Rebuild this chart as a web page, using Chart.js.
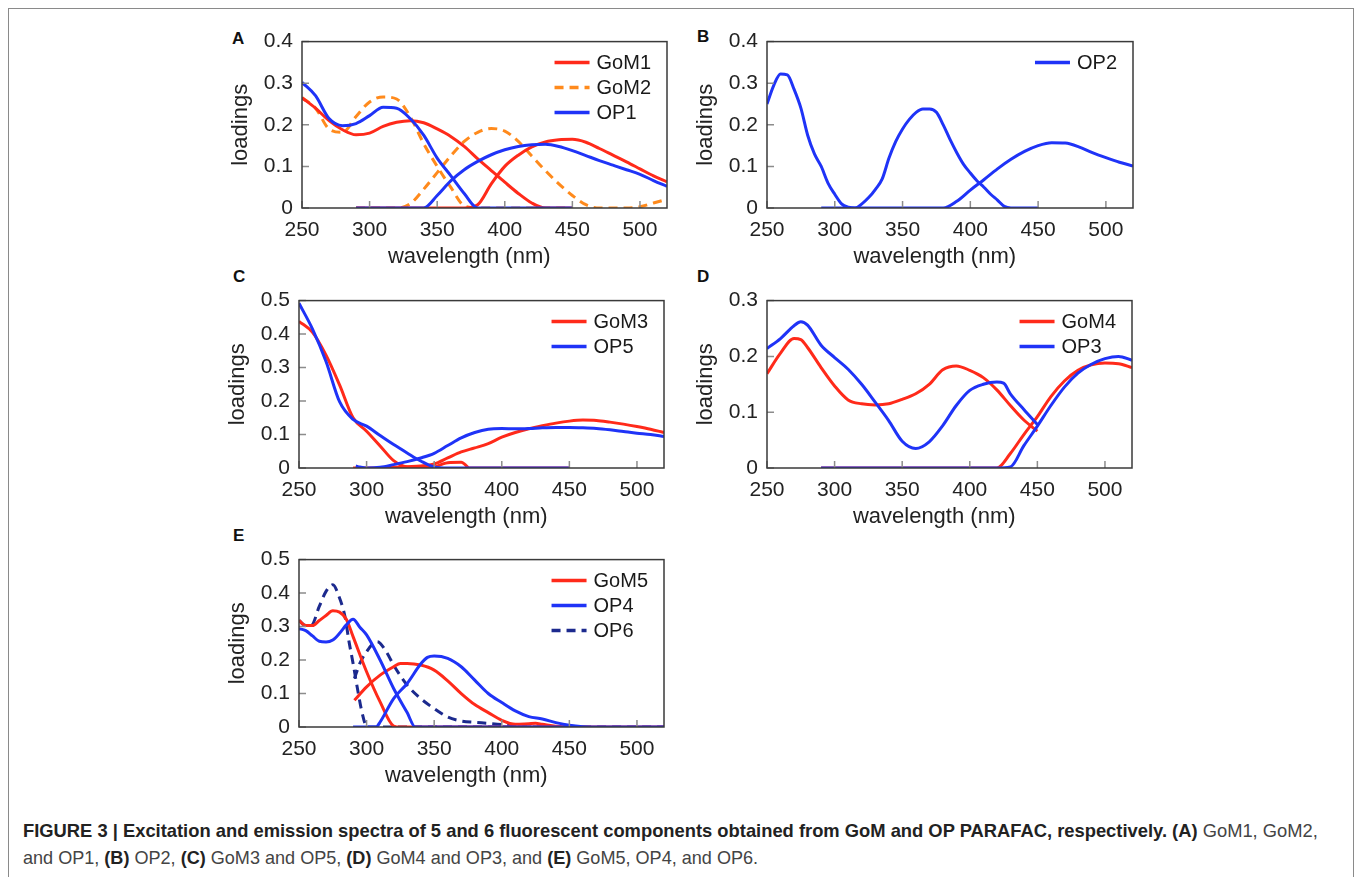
<!DOCTYPE html>
<html>
<head>
<meta charset="utf-8">
<script src="https://cdn.jsdelivr.net/npm/chart.js@4.4.1/dist/chart.umd.min.js"></script>
<style>
  html, body { margin: 0; padding: 0; background: #fff; }
  body { width: 1358px; height: 877px; position: relative; overflow: hidden;
         font-family: "Liberation Sans", Arial, sans-serif; }
  #frame { position: absolute; left: 8px; top: 8px; width: 1346px; height: 900px;
           border: 1.5px solid #8a8a8a; box-sizing: border-box; }
  canvas { position: absolute; }
  .tag { position: absolute; font-weight: bold; font-size: 17px; line-height: 1; color: #111; }
  .cap { position: absolute; left: 23px; font-size: 19px; line-height: 1; white-space: nowrap;
         transform-origin: 0 0; color: #444; }
  .cap b { color: #222; }
</style>
</head>
<body>
<div id="frame"></div>

<div class="tag" style="left:232px;top:30px">A</div>
<div class="tag" style="left:697px;top:28px">B</div>
<div class="tag" style="left:233px;top:268px">C</div>
<div class="tag" style="left:697px;top:268px">D</div>
<div class="tag" style="left:233px;top:527px">E</div>

<canvas id="chartA"></canvas>
<canvas id="chartB"></canvas>
<canvas id="chartC"></canvas>
<canvas id="chartD"></canvas>
<canvas id="chartE"></canvas>

<div class="cap" data-w="1295" style="top:821px"><b>FIGURE 3 | Excitation and emission spectra of 5 and 6 fluorescent components obtained from GoM and OP PARAFAC, respectively. (A)</b> GoM1, GoM2,</div>
<div class="cap" data-w="735" style="top:848px">and OP1, <b>(B)</b> OP2, <b>(C)</b> GoM3 and OP5, <b>(D)</b> GoM4 and OP3, and <b>(E)</b> GoM5, OP4, and OP6.</div>

<script>
/* ===== Fluorescence EEM loadings, 5 panels ===== */

const FONT = '"Liberation Sans", Arial, sans-serif';
const RED = '#ff2a1a';
const BLUE = '#1f33f7';
const ORANGE = '#ff8a1c';
const NAVY = '#1c2a8e';

// wavelength grids (nm)
const WL_EX = [250, 260, 270, 280, 290, 300, 310, 320, 330, 340, 350, 360, 370, 380, 390, 400, 410, 420, 430, 440, 450];
const WL_EM = [290, 300, 310, 320, 330, 340, 350, 360, 370, 380, 390, 400, 410, 420, 430, 440, 450, 460, 470, 480, 490, 500, 510, 520];
const WL_EX5 = [250, 255, 260, 265, 270, 275, 280, 285, 290, 295, 300, 305, 310, 315, 320, 325, 330, 335, 340, 345,
                350, 355, 360, 365, 370, 375, 380, 385, 390, 395, 400, 405, 410, 415, 420, 425, 430, 435, 440, 445, 450];
const X_TICKS = [250, 300, 350, 400, 450, 500];

// (A) GoM1, GoM2, OP1
const gom1Ex = [0.265, 0.24, 0.21, 0.188, 0.176, 0.18, 0.196, 0.206, 0.21, 0.205, 0.19, 0.172, 0.148, 0.118, 0.09, 0.062, 0.035, 0.012, 0, 0, 0];
const gom1Em = [0, 0, 0, 0, 0, 0, 0, 0, 0, 0.008, 0.058, 0.1, 0.127, 0.147, 0.159, 0.164, 0.165, 0.158, 0.143, 0.127, 0.111, 0.094, 0.077, 0.063];
const gom2Ex = [0.265, 0.24, 0.19, 0.182, 0.22, 0.255, 0.267, 0.262, 0.22, 0.155, 0.1, 0.05, 0.005, 0, 0, 0, 0, 0, 0, 0, 0];
const gom2Em = [0, 0, 0, 0, 0.01, 0.045, 0.085, 0.125, 0.16, 0.182, 0.191, 0.185, 0.16, 0.125, 0.09, 0.058, 0.03, 0.008, 0, 0, 0, 0.003, 0.012, 0.021];
const op1Ex = [0.302, 0.27, 0.215, 0.198, 0.203, 0.222, 0.242, 0.24, 0.215, 0.175, 0.12, 0.078, 0.035, 0, 0, 0, 0, 0, 0, 0, 0];
const op1Em = [0, 0, 0, 0, 0, 0, 0.03, 0.065, 0.092, 0.112, 0.128, 0.14, 0.148, 0.152, 0.153, 0.148, 0.138, 0.126, 0.114, 0.103, 0.092, 0.081, 0.066, 0.052];

// (B) OP2
const op2Ex = [0.25, 0.295, 0.322, 0.32, 0.285, 0.24, 0.175, 0.13, 0.1, 0.06, 0.033, 0.01, 0.002, 0, 0.01, 0.025, 0.045, 0.07, 0.12, 0.16,
               0.19, 0.213, 0.23, 0.238, 0.238, 0.23, 0.2, 0.165, 0.133, 0.105, 0.084, 0.065, 0.05, 0.033, 0.019, 0.004, 0, 0, 0, 0, 0];
const op2Em = [0, 0, 0, 0, 0, 0, 0, 0, 0, 0, 0.016, 0.043, 0.068, 0.094, 0.117, 0.136, 0.15, 0.157, 0.156, 0.147, 0.133, 0.121, 0.11, 0.101];

// (C) GoM3, OP5
const gom3ExWl = [250, 260, 270, 280, 290, 300, 310, 320, 330, 340, 350, 355, 360, 370, 373, 376, 390, 450];
const gom3Ex = [0.438, 0.405, 0.337, 0.248, 0.15, 0.11, 0.066, 0.022, 0.003, 0.001, 0.003, 0.01, 0.016, 0.017, 0.01, 0, 0, 0];
const gom3Em = [0, 0, 0, 0.002, 0.004, 0.006, 0.012, 0.03, 0.048, 0.06, 0.073, 0.092, 0.106, 0.117, 0.126, 0.134, 0.14, 0.143, 0.142, 0.137, 0.131, 0.124, 0.116, 0.106];
const op5Ex = [0.492, 0.415, 0.318, 0.198, 0.145, 0.125, 0.097, 0.07, 0.045, 0.021, 0.003, 0, 0, 0, 0, 0, 0, 0, 0, 0, 0];
const op5EmWl = [292, 295, 300, 310, 320, 330, 340, 350, 360, 370, 380, 390, 400, 410, 420, 430, 440, 450, 460, 470, 480, 490, 500, 510, 520];
const op5Em = [0.006, 0.003, 0, 0.002, 0.01, 0.019, 0.03, 0.044, 0.067, 0.09, 0.106, 0.116, 0.118, 0.117, 0.118, 0.12, 0.121, 0.121, 0.12, 0.118, 0.114, 0.109, 0.104, 0.1, 0.094];

// (D) GoM4, OP3
const gom4ExWl = [250, 260, 270, 275, 280, 290, 300, 310, 320, 330, 340, 350, 360, 370, 380, 390, 400, 410, 420, 430, 440, 450];
const gom4Ex = [0.169, 0.206, 0.232, 0.23, 0.216, 0.18, 0.147, 0.122, 0.115, 0.113, 0.115, 0.123, 0.133, 0.15, 0.176, 0.183, 0.175, 0.162, 0.14, 0.112, 0.086, 0.066];
const gom4Em = [0, 0, 0, 0, 0, 0, 0, 0, 0, 0, 0, 0, 0, 0, 0.026, 0.06, 0.092, 0.128, 0.156, 0.175, 0.185, 0.188, 0.187, 0.18];
const op3ExWl = [250, 260, 270, 275, 280, 290, 300, 310, 320, 330, 340, 350, 360, 370, 380, 390, 400, 410, 420, 425, 430, 440, 450];
const op3Ex = [0.214, 0.232, 0.255, 0.262, 0.256, 0.22, 0.198, 0.177, 0.15, 0.118, 0.085, 0.048, 0.035, 0.047, 0.076, 0.112, 0.139, 0.15, 0.154, 0.152, 0.133, 0.105, 0.078];
const op3Em = [0, 0, 0, 0, 0, 0, 0, 0, 0, 0, 0, 0, 0, 0, 0.002, 0.04, 0.075, 0.112, 0.145, 0.17, 0.186, 0.196, 0.2, 0.193];

// (E) GoM5, OP4, OP6
const gom5ExWl = [250, 255, 260, 265, 270, 275, 280, 285, 290, 300, 310, 320, 325, 450];
const gom5Ex = [0.318, 0.303, 0.303, 0.318, 0.333, 0.347, 0.343, 0.322, 0.27, 0.165, 0.075, 0.003, 0, 0];
const gom5EmWl = [291, 300, 310, 320, 325, 330, 340, 350, 360, 370, 380, 390, 400, 410, 420, 425, 430, 440, 450, 520];
const gom5Em = [0.08, 0.12, 0.155, 0.18, 0.19, 0.19, 0.185, 0.17, 0.138, 0.1, 0.067, 0.043, 0.02, 0.008, 0.01, 0.011, 0.008, 0.002, 0, 0];
const op4ExWl = [250, 255, 260, 265, 270, 275, 280, 285, 290, 295, 300, 310, 320, 330, 336, 450];
const op4Ex = [0.294, 0.288, 0.272, 0.256, 0.254, 0.26, 0.28, 0.305, 0.322, 0.298, 0.275, 0.2, 0.115, 0.043, 0, 0];
const op4EmWl = [290, 300, 307, 310, 320, 330, 340, 345, 350, 360, 370, 380, 390, 400, 410, 420, 430, 440, 450, 460, 470, 520];
const op4Em = [0, 0, 0, 0.015, 0.085, 0.13, 0.188, 0.208, 0.212, 0.205, 0.18, 0.14, 0.1, 0.073, 0.048, 0.031, 0.024, 0.013, 0.005, 0.001, 0, 0];
const op6ExWl = [250, 255, 259, 265, 270, 275, 280, 284, 287, 290, 293, 296, 299, 300, 450];
const op6Ex = [0.318, 0.303, 0.303, 0.36, 0.405, 0.425, 0.385, 0.33, 0.255, 0.19, 0.12, 0.055, 0.008, 0, 0];
const op6EmWl = [291, 295, 300, 305, 308, 310, 315, 320, 330, 340, 350, 360, 370, 380, 390, 400, 410, 420, 520];
const op6Em = [0.145, 0.19, 0.225, 0.25, 0.255, 0.25, 0.222, 0.185, 0.125, 0.085, 0.055, 0.03, 0.018, 0.014, 0.011, 0.007, 0.003, 0, 0];

const DASH = [9, 6];

// Build a line dataset; legendPos marks the one entry shown in the legend
function series(label, xs, ys, color, dash, legendPos) {
  return {
    label,
    data: xs.map((x, i) => ({ x, y: ys[i] })),
    borderColor: color,
    borderDash: dash || [],
    legendPos,
  };
}

// plot box + inward tick marks
const framePlugin = {
  id: 'frameTicks',
  afterDatasetsDraw(chart) {
    const { ctx, chartArea: a, scales: { x, y } } = chart;
    ctx.save();
    ctx.strokeStyle = '#8c8c8c';
    ctx.lineWidth = 1.5;
    ctx.beginPath();
    x.ticks.forEach(t => {
      const px = x.getPixelForValue(t.value);
      ctx.moveTo(px, a.bottom);
      ctx.lineTo(px, a.bottom - 7);
    });
    y.ticks.forEach(t => {
      const py = y.getPixelForValue(t.value);
      ctx.moveTo(a.left, py);
      ctx.lineTo(a.left + 7, py);
    });
    ctx.stroke();
    ctx.strokeStyle = '#3a3a3a';
    ctx.lineWidth = 1.5;
    ctx.strokeRect(a.left, a.top, a.right - a.left, a.bottom - a.top);
    ctx.restore();
  },
};

// Excel-like legend sitting inside the top right corner of the plot
const insideLegend = {
  id: 'insideLegend',
  afterDraw(chart) {
    const { ctx, chartArea: a } = chart;
    const items = chart.data.datasets
      .filter(d => d.legendPos !== undefined)
      .sort((p, q) => p.legendPos - q.legendPos);
    ctx.save();
    ctx.font = `20px ${FONT}`;
    const w = Math.max(...items.map(d => ctx.measureText(d.label).width));
    const tx = a.right - 16 - w;
    items.forEach((d, i) => {
      const yy = a.top + 21 + i * 25;
      ctx.strokeStyle = d.borderColor;
      ctx.lineWidth = 3.5;
      ctx.setLineDash(d.borderDash);
      ctx.beginPath();
      ctx.moveTo(tx - 42, yy);
      ctx.lineTo(tx - 7, yy);
      ctx.stroke();
      ctx.setLineDash([]);
      ctx.fillStyle = '#1a1a1a';
      ctx.textBaseline = 'middle';
      ctx.fillText(d.label, tx, yy + 1);
    });
    ctx.restore();
  },
};

// geometry of each plot area: left, top, right, bottom (page px)
function drawPanel(id, area, yMax, datasets) {
  const [L, T, R, B] = area;
  const padL = 82, padT = 14, padR = 13, padB = 67;
  const cv = document.getElementById(id);
  cv.width = R - L + padL + padR;
  cv.height = B - T + padT + padB;
  cv.style.left = (L - padL) + 'px';
  cv.style.top = (T - padT) + 'px';

  return new Chart(cv, {
    type: 'line',
    data: { datasets },
    options: {
      responsive: false,
      animation: false,
      devicePixelRatio: 1,
      layout: { padding: { left: 0, top: padT, right: padR, bottom: 0 } },
      elements: {
        point: { radius: 0 },
        line: { borderWidth: 3, cubicInterpolationMode: 'monotone', fill: false },
      },
      plugins: { legend: { display: false }, tooltip: { enabled: false } },
      scales: {
        x: {
          type: 'linear',
          min: 250,
          max: 520,
          afterFit: s => { s.height = padB; },
          afterBuildTicks: s => { s.ticks = X_TICKS.map(v => ({ value: v })); },
          grid: { display: false, drawTicks: false },
          border: { display: false },
          ticks: { color: '#222', font: { family: FONT, size: 21 }, padding: 10, maxRotation: 0, autoSkip: false },
          title: {
            display: true,
            text: 'wavelength (nm)\u00a0\u00a0\u00a0\u00a0\u00a0',
            color: '#222',
            font: { family: FONT, size: 22 },
            padding: { top: 0, bottom: 5 },
          },
        },
        y: {
          min: 0,
          max: yMax,
          afterFit: s => { s.width = padL; },
          grid: { display: false, drawTicks: false },
          border: { display: false },
          ticks: {
            stepSize: 0.1,
            color: '#222',
            font: { family: FONT, size: 21 },
            padding: 9,
            callback: v => (Math.abs(v) < 1e-9 ? '0' : v.toFixed(1)),
          },
          title: {
            display: true,
            text: 'loadings',
            color: '#222',
            font: { family: FONT, size: 22 },
            padding: { top: 8, bottom: 0 },
          },
        },
      },
    },
    plugins: [framePlugin, insideLegend],
  });
}

drawPanel('chartA', [302, 34, 667, 208], 0.4, [
  series('OP1', WL_EX, op1Ex, BLUE, null, 2),
  series('OP1', WL_EM, op1Em, BLUE),
  series('GoM1', WL_EX, gom1Ex, RED, null, 0),
  series('GoM1', WL_EM, gom1Em, RED),
  series('GoM2', WL_EX, gom2Ex, ORANGE, DASH, 1),
  series('GoM2', WL_EM, gom2Em, ORANGE, DASH),
]);

drawPanel('chartB', [767, 34, 1133, 208], 0.4, [
  series('OP2', WL_EX5, op2Ex, BLUE, null, 0),
  series('OP2', WL_EM, op2Em, BLUE),
]);

drawPanel('chartC', [299, 293, 664, 468], 0.5, [
  series('OP5', WL_EX, op5Ex, BLUE, null, 1),
  series('OP5', op5EmWl, op5Em, BLUE),
  series('GoM3', gom3ExWl, gom3Ex, RED, null, 0),
  series('GoM3', WL_EM, gom3Em, RED),
]);

drawPanel('chartD', [767, 293, 1132, 468], 0.3, [
  series('OP3', op3ExWl, op3Ex, BLUE, null, 1),
  series('OP3', WL_EM, op3Em, BLUE),
  series('GoM4', gom4ExWl, gom4Ex, RED, null, 0),
  series('GoM4', WL_EM, gom4Em, RED),
]);

drawPanel('chartE', [299, 552, 664, 727], 0.5, [
  series('OP4', op4ExWl, op4Ex, BLUE, null, 1),
  series('OP4', op4EmWl, op4Em, BLUE),
  series('GoM5', gom5ExWl, gom5Ex, RED, null, 0),
  series('GoM5', gom5EmWl, gom5Em, RED),
  series('OP6', op6ExWl, op6Ex, NAVY, DASH, 2),
  series('OP6', op6EmWl, op6Em, NAVY, DASH),
]);

// stretch caption lines to the measured widths
document.querySelectorAll('.cap').forEach(el => {
  const w = el.offsetWidth;
  el.style.transform = `scaleX(${Number(el.dataset.w) / w})`;
});
</script>
</body>
</html>
